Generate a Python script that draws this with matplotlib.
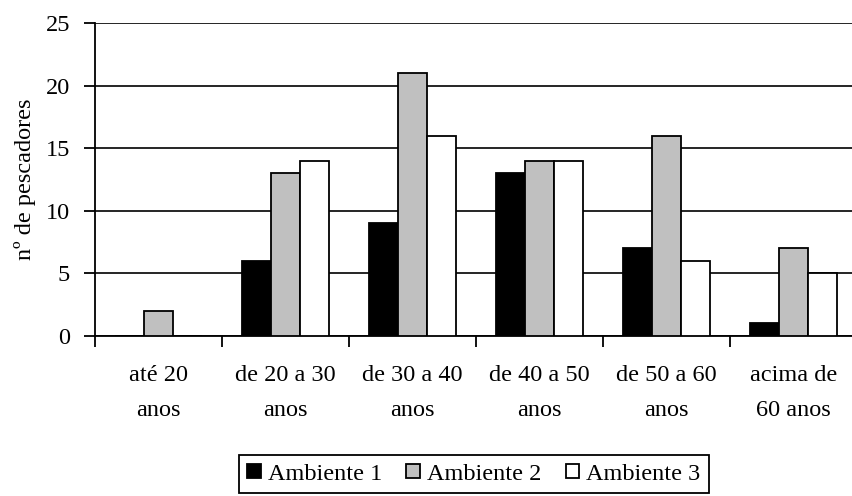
import matplotlib
matplotlib.use("Agg")
import matplotlib.pyplot as plt
import numpy as np

# Data
categories = ["até 20\nanos", "de 20 a 30\nanos", "de 30 a 40\nanos",
              "de 40 a 50\nanos", "de 50 a 60\nanos", "acima de\n60 anos"]
ambiente_1 = [0, 6, 9, 13, 7, 1]
ambiente_2 = [2, 13, 21, 14, 16, 7]
ambiente_3 = [0, 14, 16, 14, 6, 5]
series_names = ["Ambiente 1", "Ambiente 2", "Ambiente 3"]
series_colors = ["#000000", "#C0C0C0", "#FFFFFF"]
y_ticks = [0, 5, 10, 15, 20, 25]

plt.rcParams['font.family'] = ['Liberation Serif', 'DejaVu Serif']
FS = 17.5

fig = plt.figure(figsize=(8.52, 4.96), dpi=100)
W, H = 852, 496
ax = fig.add_axes([95 / W, 1 - 336 / H, 762 / W, 313 / H])

x = np.arange(len(categories))
bw = 0.228
for i, (vals, name, col) in enumerate(zip([ambiente_1, ambiente_2, ambiente_3],
                                         series_names, series_colors)):
    ax.bar(x + (i - 1) * bw, vals, width=bw, color=col, edgecolor="black",
           linewidth=1.3, label=name, zorder=3)

ax.set_xlim(-0.5, len(categories) - 0.5)
ax.set_ylim(0, 25)
ax.set_yticks(y_ticks)
ax.set_yticklabels([str(v) for v in y_ticks], fontsize=FS)
ax.yaxis.grid(True, color="black", linewidth=1.2, zorder=0)
ax.set_axisbelow(True)

# major ticks at category boundaries (marks), minor at centres (labels)
ax.set_xticks(np.arange(len(categories) + 1) - 0.5)
ax.set_xticklabels([])
ax.set_xticks(x, minor=True)
ax.set_xticklabels(categories, minor=True, fontsize=FS, linespacing=1.85)
ax.tick_params(axis="x", which="major", direction="out", length=8, width=1.3)
ax.tick_params(axis="x", which="minor", length=0, pad=21)
ax.tick_params(axis="y", direction="out", length=8, width=1.3, pad=10)

for side in ["top", "right"]:
    ax.spines[side].set_visible(False)
for side in ["left", "bottom"]:
    ax.spines[side].set_linewidth(1.3)

ax.set_ylabel("nº de pescadores", fontsize=FS)
ax.yaxis.set_label_coords(-0.077, 0.5)

leg = fig.legend(loc="center", bbox_to_anchor=(474 / W, 1 - 474 / H), ncol=3,
                 fontsize=FS, frameon=True, fancybox=False, edgecolor="black",
                 framealpha=1, handlelength=0.55, handleheight=0.55,
                 handletextpad=0.3, columnspacing=1.0, borderpad=0.35,
                 borderaxespad=0)
leg.get_frame().set_linewidth(1.3)

fig.savefig("out.png", dpi=100)
